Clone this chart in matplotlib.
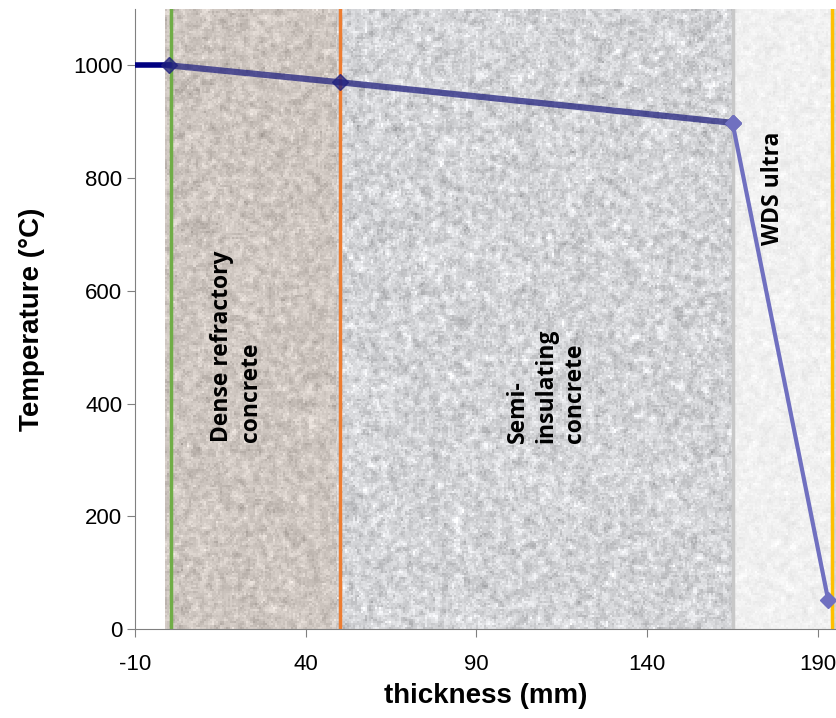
import numpy as np
import matplotlib.pyplot as plt

plt.rcParams["axes.unicode_minus"] = False

# temperature profile through the lining
x_hot = [-10, 0]
y_hot = [1000, 1000]
x_pts = [0, 50, 165]
y_pts = [1000, 970, 898]
x_cold = [165, 193]
y_cold = [898, 52]

# layer boundaries (mm)
layers = [(-1.2, 49.2), (49.2, 165.1), (165.1, 194), (194, 197)]
layer_rgb = [(206, 198, 192), (212, 213, 216), (241, 241, 241), (215, 215, 218)]
layer_var = [15, 19, 6, 5]
layer_names = ["Dense refractory\nconcrete", "Semi-\ninsulating\nconcrete", "WDS ultra"]
name_x = [19.8, 110.5, 176.8]
name_y = [331, 330, 681]
bounds = [0.5, 50, 165.1, 194]
bound_colors = ["#70AD47", "#ED7D31", "#C8C8C8", "#FFC000"]

fig = plt.figure(figsize=(8.37, 7.18), dpi=100)
ax = fig.add_axes([135 / 837, 89 / 718, 702 / 837, 620 / 718])

# speckled "concrete" texture for each layer
rng = np.random.default_rng(3)
for (x0, x1), rgb, var in zip(layers, layer_rgb, layer_var):
    w = max(int((x1 - x0) * 3.4 / 2), 2)
    h = 310
    n = rng.normal(0, 1, (h + 4, w + 4))
    n2 = np.zeros((h, w))
    for dy in range(3):
        for dx in range(3):
            n2 += n[dy:dy + h, dx:dx + w]
    n2 = n2 / n2.std()
    n2 = 0.6 * n2 + 0.4 * rng.normal(0, 1, (h, w))
    img = np.zeros((h, w, 3))
    for c in range(3):
        img[:, :, c] = np.clip((rgb[c] + var * n2) / 255.0, 0, 1)
    ax.imshow(img, extent=[x0, x1, 0, 1100], aspect="auto", zorder=0,
              interpolation="nearest")

for b, c in zip(bounds, bound_colors):
    ax.axvline(b, color=c, lw=2.5, zorder=2)

ax.plot(x_hot, y_hot, color="#000080", lw=4, zorder=3)
ax.plot(x_pts, y_pts, color="#22227F", alpha=0.75, lw=4.5, marker="D", ms=8, zorder=4)
ax.plot(x_cold, y_cold, color="#7070C0", lw=3, marker="D", ms=8, zorder=4,
        markevery=[1])
ax.plot([165], [898], color="#7070C0", marker="D", ms=8, zorder=5)

for t, tx, ty in zip(layer_names, name_x, name_y):
    ax.text(tx, ty, t, rotation=90, ha="center", va="bottom", multialignment="left",
            fontsize=16.5, fontweight="bold", family="Open Sans", linespacing=1.25, zorder=6)

ax.set_xlim(-10, 195.6)
ax.set_ylim(0, 1100)
ax.set_xticks([-10, 40, 90, 140, 190])
ax.set_yticks([0, 200, 400, 600, 800, 1000])
for s in ["top", "right"]:
    ax.spines[s].set_visible(False)
for s in ["left", "bottom"]:
    ax.spines[s].set_color("#808080")
ax.tick_params(colors="#808080", labelcolor="black", labelsize=16, length=6,
               direction="out")
ax.tick_params(axis="x", pad=12)
ax.tick_params(axis="y", pad=3)
for lab in ax.get_xticklabels() + ax.get_yticklabels():
    lab.set_family("Liberation Sans")

ax.set_xlabel("thickness (mm)", fontsize=20, fontweight="bold", family="Liberation Sans",
              labelpad=6)
ax.set_ylabel("Temperature (°C)", fontsize=20, fontweight="bold", family="Liberation Sans",
              labelpad=20)

fig.savefig("out.png", dpi=100)
